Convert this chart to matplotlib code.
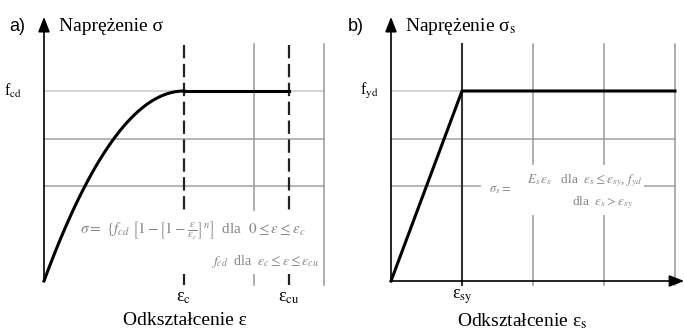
import numpy as np
import matplotlib.pyplot as plt

# panel a) concrete (x in units of eps_c, y in units of f_cd)
eps_c = 2.0
eps_cu = 3.5
n_exp = 2
grid_x_a = [3.0, 4.0]
grid_y = [0.5, 0.75, 1.0]

# panel b) steel (x in units of eps_sy)
eps_sy = 1.0
eps_end_b = 4.0
grid_x_b = [2.0, 3.0, 4.0]

serif = ['Liberation Serif', 'DejaVu Serif']
sans = ['Liberation Sans', 'DejaVu Sans']
plt.rcParams['mathtext.fontset'] = 'stix'
fcol = '#858585'  # blurry formula text

fig = plt.figure(figsize=(6.84, 3.3), dpi=100)


def make_axes(rect, x0px, scale):
    ax = fig.add_axes(rect)
    ax.set_xlim(-x0px / scale, (342 - x0px) / scale)
    ax.set_ylim((281 - 330) / 190, 281 / 190)
    ax.axis('off')
    return ax


def axes_arrows(ax, xend, ytop=1.39):
    style = '-|>,head_length=0.9,head_width=0.35'
    ax.annotate('', xy=(xend, 0), xytext=(0, 0),
                arrowprops=dict(arrowstyle=style, color='black', lw=1.2,
                                shrinkA=0, shrinkB=0))
    ax.annotate('', xy=(0, ytop), xytext=(0, 0),
                arrowprops=dict(arrowstyle=style, color='black', lw=1.2,
                                shrinkA=0, shrinkB=0))


# ---------- a) ----------
ax = make_axes([0, 0, 0.5, 1], 44, 70)
for gy in grid_y:
    ax.plot([0, 4.0], [gy, gy], color='#a0a0a0' if gy < 1 else '#c8c8c8', lw=1.1, zorder=1)
for gx in grid_x_a:
    ax.plot([gx, gx], [-0.02, 1.25], color='#999999', lw=1.1, zorder=1)
for gx in [eps_c, eps_cu]:
    ax.plot([gx, gx], [-0.02, 1.25], color='#222222', lw=1.6,
            dashes=(6, 2.5), zorder=2)
xs = np.linspace(0, eps_c, 100)
ax.plot(xs, 1 - (1 - xs / eps_c) ** n_exp, color='black', lw=2.2, zorder=4)
ax.plot([eps_c, eps_cu], [1, 1], color='black', lw=2.2, zorder=4)
axes_arrows(ax, 4.27)
# white patch behind the formula (cuts the grid lines, as in the source)
ax.text(0.5, 0.05, ' ' * 62 + '\n\n\n', fontsize=8.5, va='bottom', zorder=3,
        bbox=dict(facecolor='white', edgecolor='none', pad=2))
ax.text(0.52, 0.27,
        r'$\sigma=\ \{f_{cd}\ \left[1-\left[1-\frac{\varepsilon}{\varepsilon_c}\right]^{n}\right]$  dla  $0\leq\varepsilon\leq\varepsilon_c$',
        fontsize=11, color=fcol, family=serif, va='center', zorder=3.5)
ax.text(3.92, 0.1, r'$f_{cd}$  dla  $\varepsilon_c\leq\varepsilon\leq\varepsilon_{cu}$',
        fontsize=10, color=fcol, family=serif, va='center', ha='right', zorder=3.5)
ax.text(-0.38, 1.34, 'a)', fontsize=13, family=sans, va='center', ha='center')
ax.text(0.22, 1.34, 'Naprężenie σ', fontsize=14, family=serif, va='center')
ax.text(-0.31, 1.0, r'f$_{\rm cd}$', fontsize=11.5, family=serif, va='center', ha='right')
ax.text(eps_c, -0.085, r'ε$_{\rm c}$', fontsize=13, family=serif, va='center', ha='center')
ax.text(eps_cu, -0.085, r'ε$_{\rm cu}$', fontsize=13, family=serif, va='center', ha='center')
ax.text(2.02, -0.21, 'Odkształcenie ε', fontsize=14, family=serif,
        va='center', ha='center')

# ---------- b) ----------
bx = make_axes([0.5, 0, 0.5, 1], 391 - 342, 71)
for gy in grid_y:
    bx.plot([0, eps_end_b], [gy, gy], color='#a0a0a0' if gy < 1 else '#c8c8c8', lw=1.1, zorder=1)
for gx in grid_x_b:
    bx.plot([gx, gx], [-0.02, 1.25], color='#999999', lw=1.1, zorder=1)
bx.plot([eps_sy, eps_sy], [-0.02, 1.25], color='#333333', lw=1.5, zorder=2)
bx.plot([0, eps_sy, eps_end_b], [0, 1, 1], color='black', lw=2.2, zorder=4)
axes_arrows(bx, 4.13)
bx.text(1.31, 0.36, ' ' * 45 + '\n\n\n', fontsize=8, va='bottom', zorder=3,
        bbox=dict(facecolor='white', edgecolor='none', pad=2))
bx.text(1.38, 0.48, r'$\sigma_s=$', fontsize=9, color=fcol, family=serif,
        va='center', zorder=3.5)
bx.text(1.92, 0.53, r'$E_s\,\varepsilon_s$   dla  $\varepsilon_s\leq\varepsilon_{sy}$, $f_{yd}$',
        fontsize=9.5, color=fcol, family=serif, va='center', zorder=3.5)
bx.text(2.55, 0.415, r'dla  $\varepsilon_s>\varepsilon_{sy}$',
        fontsize=9.5, color=fcol, family=serif, va='center', zorder=3.5)
bx.text(-0.49, 1.34, 'b)', fontsize=13, family=sans, va='center', ha='center')
bx.text(0.2, 1.34, r'Naprężenie σ$_{\rm s}$', fontsize=14, family=serif, va='center')
bx.text(-0.17, 1.0, r'f$_{\rm yd}$', fontsize=11.5, family=serif, va='center', ha='right')
bx.text(eps_sy, -0.085, r'ε$_{\rm sy}$', fontsize=13, family=serif, va='center', ha='center')
bx.text(1.85, -0.21, r'Odkształcenie ε$_{\rm s}$', fontsize=14, family=serif,
        va='center', ha='center')

fig.savefig('out.png', dpi=100)
